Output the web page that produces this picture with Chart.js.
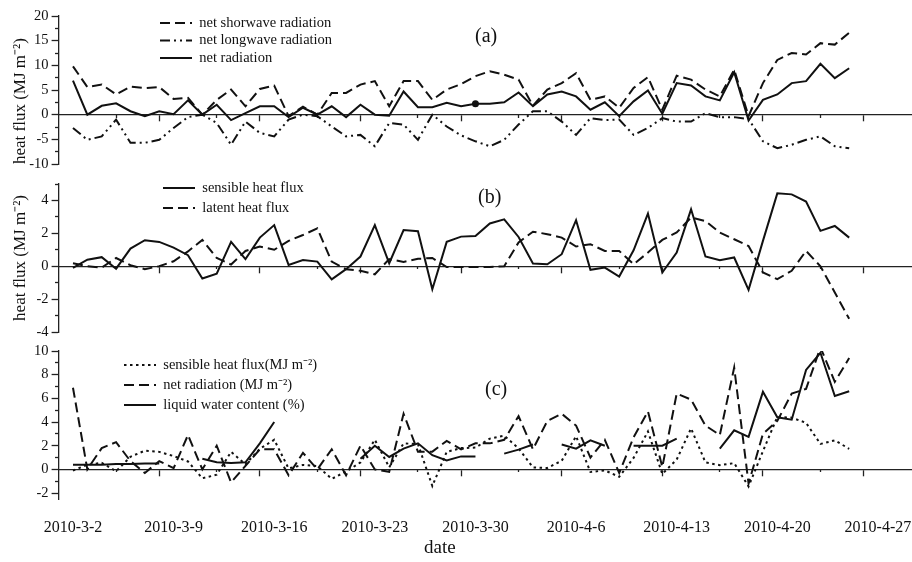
<!DOCTYPE html>
<html>
<head>
<meta charset="utf-8">
<script src="https://cdn.jsdelivr.net/npm/chart.js"></script>
<style>
  html, body { margin: 0; padding: 0; background: #fff; overflow: hidden; }
  #page { position: relative; width: 912px; height: 562px; overflow: hidden; font-family: "Liberation Serif", "Times New Roman", serif; color: #111; }
  canvas { position: absolute; left: 0; }
  .tag { position: absolute; font-size: 20px; line-height: 20px; white-space: nowrap; }
</style>
</head>
<body>
<div id="page">
  <canvas id="panelA" width="912" height="176" style="top:0px"></canvas>
  <canvas id="panelB" width="912" height="166" style="top:176px"></canvas>
  <canvas id="panelC" width="912" height="220" style="top:342px"></canvas>
  <div class="tag" style="left:475px;top:25px">(a)</div>
  <div class="tag" style="left:478px;top:186px">(b)</div>
  <div class="tag" style="left:485px;top:378px">(c)</div>
  <div class="tag" style="left:424px;top:537px;font-size:19px">date</div>
</div>
<script>
// daily values, 2010-3-2 .. 2010-4-25 (index = day)
const dates = [
    '2010-3-2', '2010-3-3', '2010-3-4', '2010-3-5', '2010-3-6', '2010-3-7', '2010-3-8', '2010-3-9', '2010-3-10', '2010-3-11',
    '2010-3-12', '2010-3-13', '2010-3-14', '2010-3-15', '2010-3-16', '2010-3-17', '2010-3-18', '2010-3-19', '2010-3-20', '2010-3-21',
    '2010-3-22', '2010-3-23', '2010-3-24', '2010-3-25', '2010-3-26', '2010-3-27', '2010-3-28', '2010-3-29', '2010-3-30', '2010-3-31',
    '2010-4-1', '2010-4-2', '2010-4-3', '2010-4-4', '2010-4-5', '2010-4-6', '2010-4-7', '2010-4-8', '2010-4-9', '2010-4-10',
    '2010-4-11', '2010-4-12', '2010-4-13', '2010-4-14', '2010-4-15', '2010-4-16', '2010-4-17', '2010-4-18', '2010-4-19', '2010-4-20',
    '2010-4-21', '2010-4-22', '2010-4-23', '2010-4-24', '2010-4-25'
];

const tickDays = [0, 7, 14, 21, 28, 35, 42, 49, 56];
const tickLabels = ['2010-3-2', '2010-3-9', '2010-3-16', '2010-3-23', '2010-3-30', '2010-4-6', '2010-4-13', '2010-4-20', '2010-4-27'];
const majorTickDays = [6, 13, 20, 27, 34, 41, 48, 55];
const minorTickDays = [3, 10, 17, 24, 31, 38, 45, 52];

const netShortwave = [9.8, 5.6, 6.1, 4.1, 5.7, 5.4, 5.6, 3.2, 3.4, 0.0, 3.0, 5.1, 1.7, 5.2, 5.9, -0.3, 1.6, 0.0, 4.4, 4.4,
    6.1, 6.8, 1.7, 6.8, 6.8, 3.0, 5.1, 6.2, 7.8, 8.8, 8.1, 7.1, 1.8, 5.1, 6.4, 8.4, 3.0, 3.7, 1.4, 5.4,
    7.6, 1.0, 7.9, 7.1, 5.1, 3.7, 9.1, -0.3, 6.4, 11.1, 12.5, 12.2, 14.5, 14.2, 16.6];
const netLongwave = [-2.7, -5.1, -4.4, -1.0, -5.7, -5.7, -5.1, -2.7, -0.5, 0.0, -1.7, -6.1, -1.4, -3.7, -4.4, -1.0, 0.0, -0.3, -2.4, -4.4,
    -4.1, -6.4, -1.7, -2.0, -5.1, 0.0, -2.4, -4.2, -5.4, -6.4, -5.1, -2.0, 0.7, 0.7, -1.4, -4.1, -0.7, -1.1, -1.0, -4.1,
    -2.7, -0.7, -1.4, -1.4, 0.3, -0.5, -0.5, -0.9, -5.4, -6.8, -6.1, -5.1, -4.4, -6.4, -6.8];
const netRadiation = [6.9, 0.0, 1.8, 2.3, 0.7, -0.3, 0.7, 0.1, 2.9, 0.0, 2.0, -1.1, 0.3, 1.7, 1.7, -0.5, 1.4, 0.0, 1.7, -0.5,
    2.0, 0.0, -0.2, 4.7, 1.5, 1.5, 2.4, 1.7, 2.2, 2.2, 2.5, 4.5, 1.7, 4.1, 4.7, 3.7, 1.0, 2.5, -0.3, 2.7,
    4.9, 0.2, 6.4, 5.9, 3.7, 2.9, 8.6, -1.2, 3.0, 4.1, 6.4, 6.8, 10.3, 7.4, 9.4];
const sensibleHeat = [-0.1, 0.4, 0.55, -0.15, 1.07, 1.58, 1.48, 1.13, 0.67, -0.75, -0.45, 1.48, 0.43, 1.74, 2.5, 0.08, 0.38, 0.28, -0.8, -0.18,
    0.59, 2.5, 0.18, 2.2, 2.13, -1.4, 1.48, 1.8, 1.84, 2.6, 2.85, 1.78, 0.16, 0.12, 0.73, 2.8, -0.22, -0.08, -0.63, 0.97,
    3.2, -0.38, 0.83, 3.46, 0.59, 0.36, 0.53, -1.44, 1.54, 4.43, 4.37, 3.93, 2.15, 2.45, 1.74];
const latentHeat = [0.18, 0.0, -0.08, 0.5, 0.06, -0.18, 0.0, 0.3, 0.9, 1.6, 0.5, 0.1, 0.93, 1.2, 1.0, 1.54, 1.9, 2.3, 0.28, -0.18,
    -0.28, -0.49, 0.43, 0.26, 0.45, 0.5, -0.05, -0.05, -0.05, -0.05, 0.0, 1.45, 2.1, 1.95, 1.74, 1.2, 1.34, 0.93, 0.93, 0.12,
    0.83, 1.6, 2.05, 2.96, 2.75, 2.05, 1.64, 1.23, -0.38, -0.79, -0.28, 0.93, 0.0, -1.6, -3.2];
const liquidWater = [0.4, 0.4, 0.4, 0.45, 0.45, 0.5, 0.5, null, null, 0.9, 0.6, 0.55, 0.6, 2.2, 4.0, null, null, null, null, null,
    0.9, 2.0, 1.05, 1.75, 2.2, 1.2, 0.75, 1.1, 1.1, null, 1.33, 1.67, 2.1, null, 2.1, 1.75, 2.45, 2.0, null, 2.0,
    2.0, 2.0, 2.6, null, null, 1.75, 3.3, 2.75, 6.55, 4.4, 4.2, 8.4, 9.85, 6.2, 6.6];
const markedDay = 28; // the single dot on net radiation in (a)

const INK = '#111';
const AXIS = '#222';
const X_MIN = -1;
const X_MAX = 58.37;
const FLUX_TITLE = 'heat flux (MJ m\u207B\u00B2)';

Chart.defaults.font.family = '"Liberation Serif", "Times New Roman", serif';
Chart.defaults.color = INK;

function points(values) {
    return values.map(function (v, i) { return { x: i, y: v }; });
}

function series(label, values, dash) {
    return {
        label: label,
        data: points(values),
        borderColor: INK,
        backgroundColor: INK,
        borderWidth: 2,
        borderDash: dash,
        pointRadius: 0,
        tension: 0,
        spanGaps: false
    };
}

function useTicks(values) {
    return function (scale) {
        scale.ticks = values.map(function (v) { return { value: v }; });
    };
}

function markAxis(axis, position, min, max, values, len) {
    return {
        axis: axis, type: 'linear', min: min, max: max, position: position,
        afterBuildTicks: useTicks(values),
        ticks: { display: false, autoSkip: false },
        grid: { drawOnChartArea: false, tickLength: len, tickWidth: 1.3, tickColor: AXIS },
        border: { display: false }
    };
}

function makePanel(id, p) {
    const scales = {
        x: markAxis('x', { y: 0 }, X_MIN, X_MAX, majorTickDays, 6),
        xMinor: markAxis('x', { y: 0 }, X_MIN, X_MAX, minorTickDays, 3),
        y: {
            axis: 'y', type: 'linear', min: p.yMin, max: p.yMax, position: 'left',
            afterBuildTicks: useTicks(p.yMajor),
            afterFit: function (scale) { scale.width = 58.6; scale.paddingTop = 0; scale.paddingBottom = 0; },
            ticks: { autoSkip: false, padding: 3, font: { size: 14.5 }, color: INK, callback: function (v) { return String(v); } },
            grid: { drawOnChartArea: false, tickLength: 7, tickWidth: 1.3, tickColor: AXIS },
            border: { color: AXIS, width: 1.3 },
            title: { display: !!p.title, text: p.title, align: p.titleAlign || 'center', color: INK, font: { size: 17 }, padding: { top: 10, bottom: 0 } }
        },
        yMinor: markAxis('y', { x: X_MIN }, p.yMin, p.yMax, p.yMinorTicks, 4)
    };
    scales.x.border = { display: true, color: AXIS, width: 1.3 };

    if (p.dateAxis) {
        scales.xLab = {
            axis: 'x', type: 'linear', min: X_MIN, max: X_MAX, position: 'bottom',
            afterBuildTicks: useTicks(tickDays),
            afterFit: function (scale) { scale.height = p.dateAxis; scale.paddingLeft = 0; scale.paddingRight = 0; },
            ticks: { autoSkip: false, maxRotation: 0, padding: 19.4, font: { size: 16 }, color: INK, callback: function (v, i) { return tickLabels[i]; } },
            grid: { display: false, drawTicks: false },
            border: { display: false }
        };
    }

    const ctx = document.getElementById(id).getContext('2d');
    return new Chart(ctx, {
        type: 'line',
        data: { datasets: p.datasets },
        options: {
            responsive: false,
            animation: false,
            layout: { padding: p.padding },
            scales: scales,
            plugins: {
                tooltip: { enabled: false },
                legend: {
                    position: 'chartArea',
                    align: 'start',
                    labels: {
                        usePointStyle: true,
                        pointStyleWidth: 32,
                        padding: p.legendGap,
                        font: { size: 14.5 },
                        color: INK,
                        generateLabels: function (chart) {
                            return chart.data.datasets.map(function (ds, i) {
                                return {
                                    text: ds.label, fillStyle: INK, strokeStyle: INK, fontColor: INK,
                                    lineWidth: ds.borderWidth, lineDash: ds.borderDash, pointStyle: 'line',
                                    hidden: false, datasetIndex: i
                                };
                            });
                        }
                    }
                }
            }
        },
        plugins: [{
            id: 'legendSpot',
            afterLayout: function (chart) {
                const lg = chart.legend;
                lg.left = p.legendX;
                lg.top = p.legendY;
                lg.right = lg.left + 400;
                lg.bottom = lg.top + 200;
            }
        }]
    });
}

const radSolid = series('net radiation', netRadiation, []);
radSolid.pointRadius = function (c) { return c.dataIndex === markedDay ? 3.5 : 0; };
radSolid.pointBorderWidth = 0;

makePanel('panelA', {
    datasets: [
        series('net shorwave radiation', netShortwave, [10, 5]),
        series('net longwave radiation', netLongwave, [10, 4, 2, 4, 2, 4]),
        radSolid
    ],
    yMin: -10, yMax: 20,
    yMajor: [-10, -5, 0, 5, 10, 15, 20],
    yMinorTicks: [-7.5, -2.5, 2.5, 7.5, 12.5, 17.5],
    title: FLUX_TITLE, titleAlign: 'start',
    padding: { top: 16, bottom: 12, left: 0, right: 0 },
    legendX: 157, legendY: 12.75, legendGap: 3
});

makePanel('panelB', {
    datasets: [
        series('sensible heat flux', sensibleHeat, []),
        series('latent heat flux', latentHeat, [10, 5])
    ],
    yMin: -4, yMax: 5,
    yMajor: [-4, -2, 0, 2, 4],
    yMinorTicks: [-3, -1, 1, 3, 5],
    title: FLUX_TITLE,
    padding: { top: 8, bottom: 10, left: 0, right: 0 },
    legendX: 157.5, legendY: -0.75, legendGap: 5.5
});

makePanel('panelC', {
    datasets: [
        series('sensible heat flux(MJ m\u207B\u00B2)', sensibleHeat, [2.5, 3.5]),
        series('net radiation (MJ m\u207B\u00B2)', netRadiation, [10, 5]),
        series('liquid water content (%)', liquidWater, [])
    ],
    yMin: -2.5, yMax: 10,
    yMajor: [-2, 0, 2, 4, 6, 8, 10],
    yMinorTicks: [-1, 1, 3, 5, 7, 9],
    title: '',
    padding: { top: 9, bottom: 0, left: 0, right: 0 },
    dateAxis: 63,
    legendX: 118.5, legendY: 10.25, legendGap: 5.5
});
</script>
</body>
</html>
